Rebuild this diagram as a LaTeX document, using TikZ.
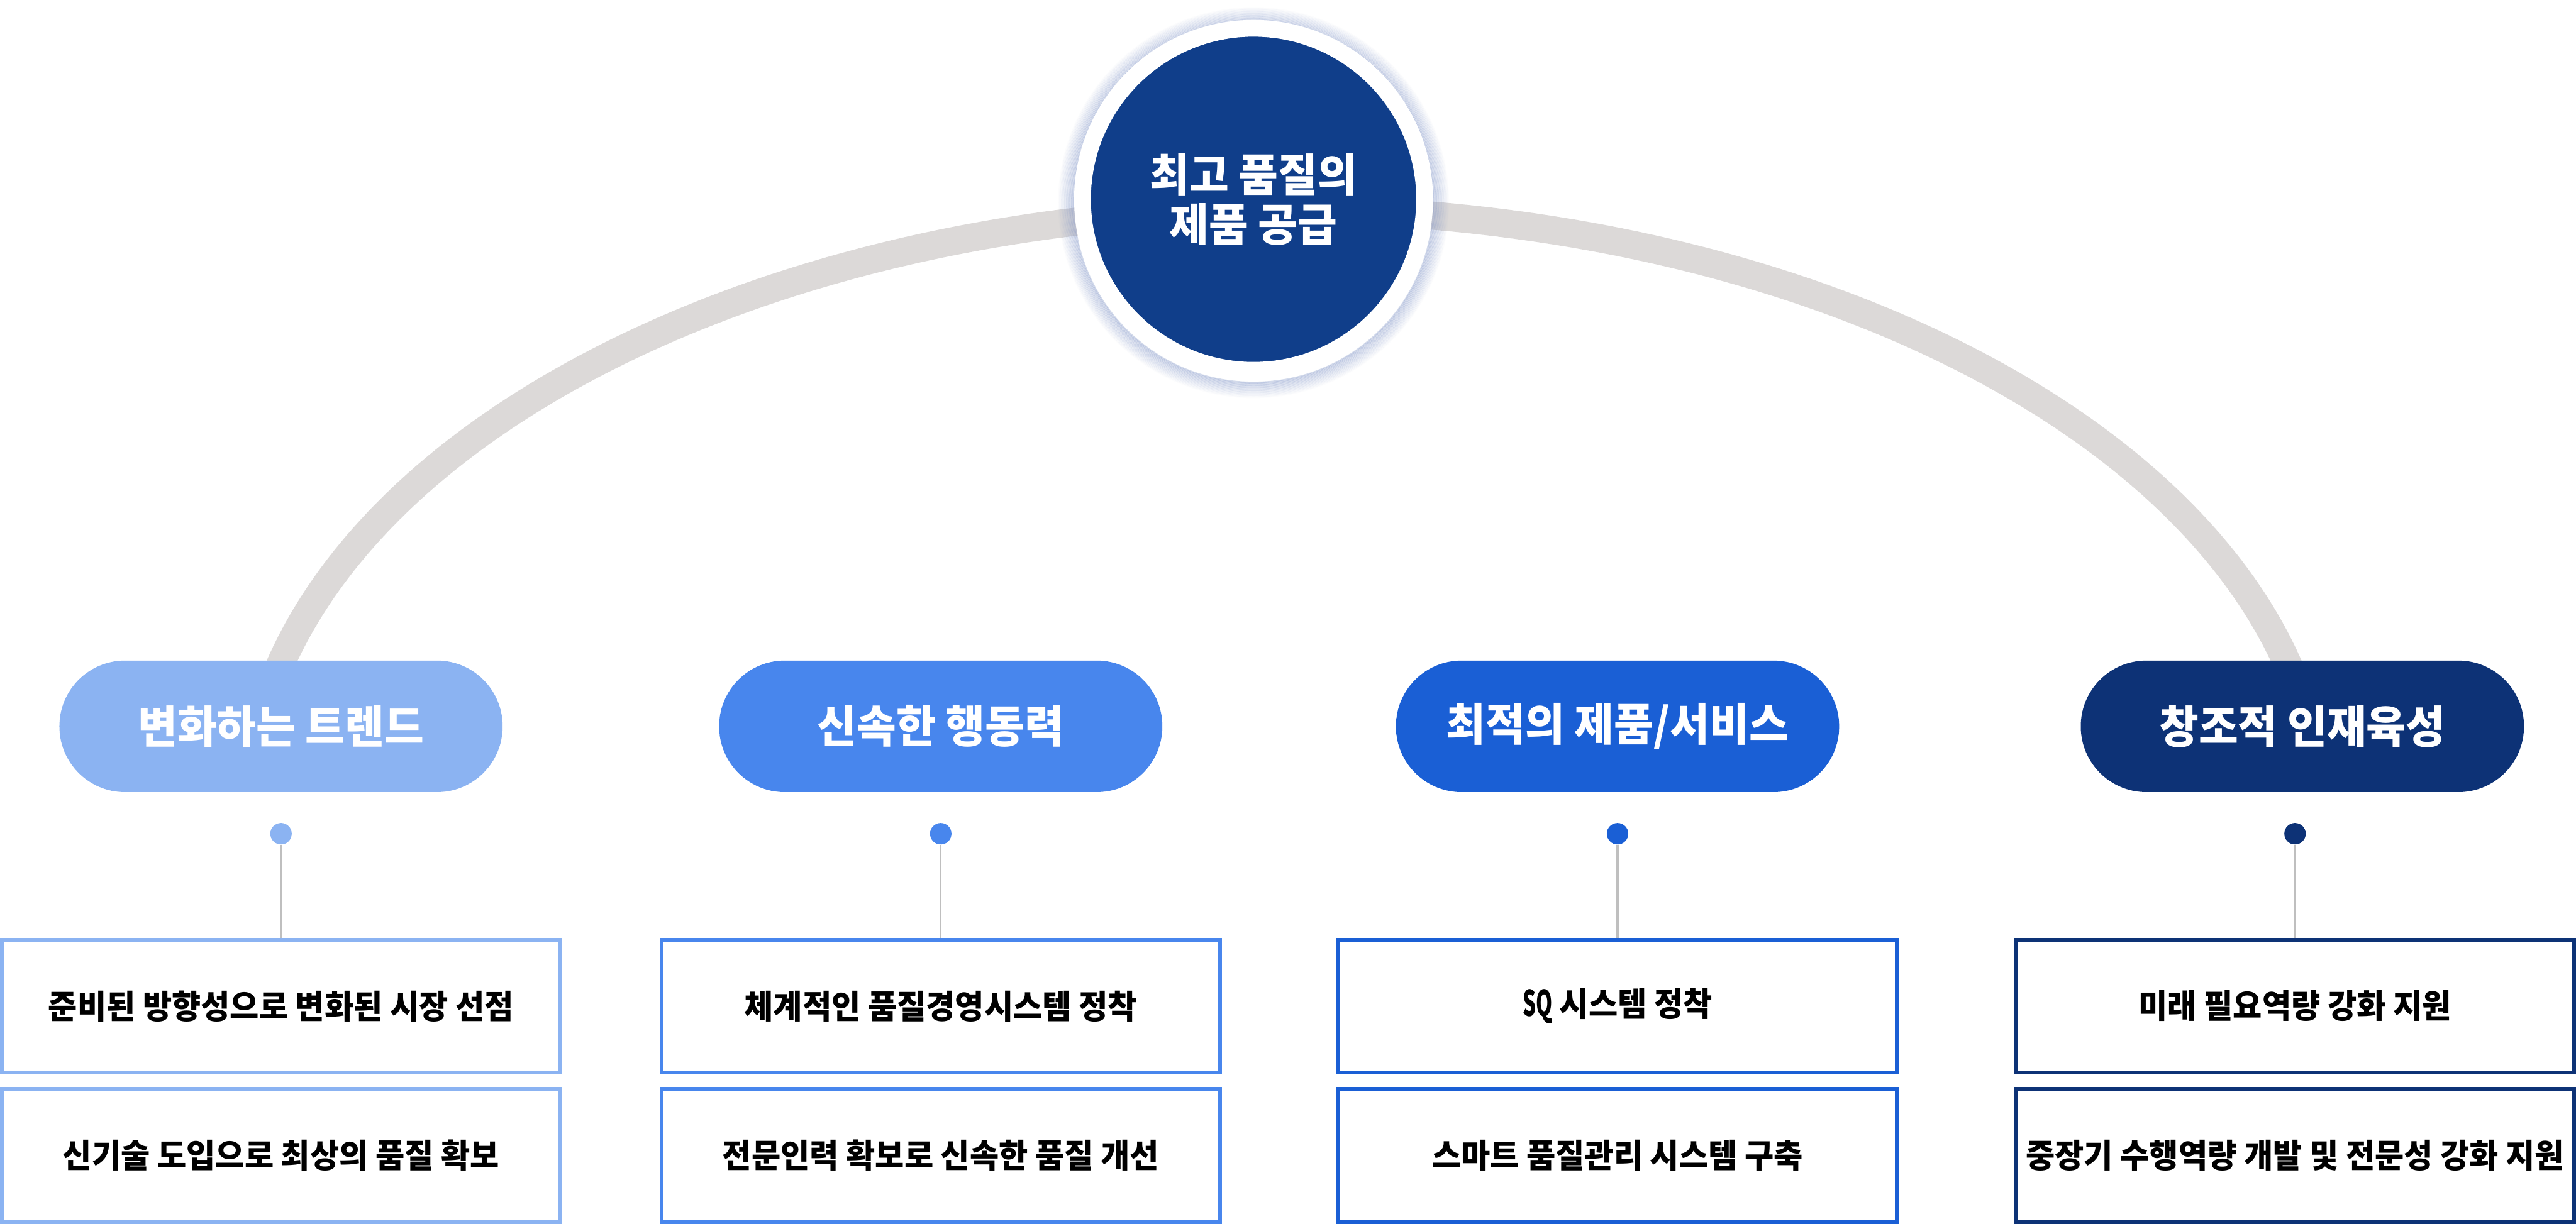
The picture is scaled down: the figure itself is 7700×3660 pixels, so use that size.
\documentclass[tikz,border=0pt]{standalone}
\usepackage{fontspec}
\usepackage{graphicx}
\setmainfont{Noto Sans CJK KR}[FakeStretch=0.96]
\definecolor{cOne}{HTML}{8BB3F2}
\definecolor{cTwo}{HTML}{4886ED}
\definecolor{cThree}{HTML}{1A5FD5}
\definecolor{cFour}{HTML}{0D3276}
\definecolor{coreBlue}{HTML}{103E8A}
\definecolor{arcGray}{HTML}{DCD9D8}
\definecolor{connGray}{HTML}{BFBFBF}
\definecolor{glowBlue}{HTML}{6F86C0}
\newcommand\mypilltext{\bfseries\fontsize{38}{44}\selectfont}
\newcommand\myitemtext{\bfseries\fontsize{28}{33}\selectfont}
\newcommand\mycoretext{\bfseries\fontsize{38}{42.4}\selectfont}
\tikzset{
  pillbox/.style={rectangle, rounded corners=1.96cm, minimum width=13.24cm, minimum height=3.93cm, inner sep=0pt, text=white, font=\mypilltext},
  itembox/.style={rectangle, draw=#1, line width=0.12cm, fill=white, minimum width=16.68cm, minimum height=3.97cm, inner sep=0pt, text=black, font=\myitemtext},
  dotnode/.style={circle, fill=#1, minimum size=0.64cm, inner sep=0pt},
  conn/.style={draw=connGray, line width=0.06cm},
  arcline/.style={draw=arcGray, line width=0.84cm},
  corecircle/.style={circle, fill=coreBlue, draw=white, line width=0.5cm, minimum size=10.22cm, inner sep=0pt, text=white, align=center, font=\mycoretext}
}
\begin{document}
\begin{tikzpicture}[x=0.01cm,y=-0.01cm]
\useasboundingbox[fill=white] (0,0) rectangle (7700,3660);
% big arc behind everything
\coordinate (arcL) at (812,2050);
\draw[arcline] (arcL) arc[start angle=167.35, end angle=12.65, x radius=31cm, y radius=18.22cm];
% glow around the core circle
\foreach \k in {0,...,15} {
  \pgfmathsetmacro\op{0.30*(1-\k/16)}
  \draw[draw=glowBlue, line width=0.04cm, opacity=\op] (3747,606) circle[radius={5.37cm+\k*0.03cm}];
}
\node[corecircle] (core) at (3747,596) {최고 품질의\\제품 공급};
% pills
\node[pillbox, fill=cOne]   (p1) at (840,2172)  {변화하는 트렌드};
\node[pillbox, fill=cTwo]   (p2) at (2812,2172) {신속한 행동력};
\node[pillbox, fill=cThree] (p3) at (4835,2172) {최적의 제품/서비스};
\node[pillbox, fill=cFour]  (p4) at (6882,2172) {창조적 인재육성};
% boxes
\node[itembox=cOne]   (b1a) at (840,3008.5)  {준비된 방향성으로 변화된 시장 선점};
\node[itembox=cOne]   (b1b) at (840,3455)    {신기술 도입으로 최상의 품질 확보};
\node[itembox=cTwo]   (b2a) at (2812,3008.5) {체계적인 품질경영시스템 정착};
\node[itembox=cTwo]   (b2b) at (2812,3455)   {전문인력 확보로 신속한 품질 개선};
\node[itembox=cThree] (b3a) at (4835,3008.5) {\scalebox{0.66}[1.08]{SQ} 시스템 정착};
\node[itembox=cThree] (b3b) at (4835,3455)   {스마트 품질관리 시스템 구축};
\node[itembox=cFour]  (b4a) at (6860,3008.5) {미래 필요역량 강화 지원};
\node[itembox=cFour]  (b4b) at (6860,3455)   {중장기 수행역량 개발 및 전문성 강화 지원};
% dots
\node[dotnode=cOne]   (d1) at (840,2493)  {};
\node[dotnode=cTwo]   (d2) at (2812,2493) {};
\node[dotnode=cThree] (d3) at (4835,2493) {};
\node[dotnode=cFour]  (d4) at (6860,2493) {};
% connectors
\draw[conn] (d1.south) -- (b1a.north);
\draw[conn] (d2.south) -- (b2a.north);
\draw[conn] (d3.south) -- (b3a.north);
\draw[conn] (d4.south) -- (b4a.north);
\end{tikzpicture}
\end{document}
